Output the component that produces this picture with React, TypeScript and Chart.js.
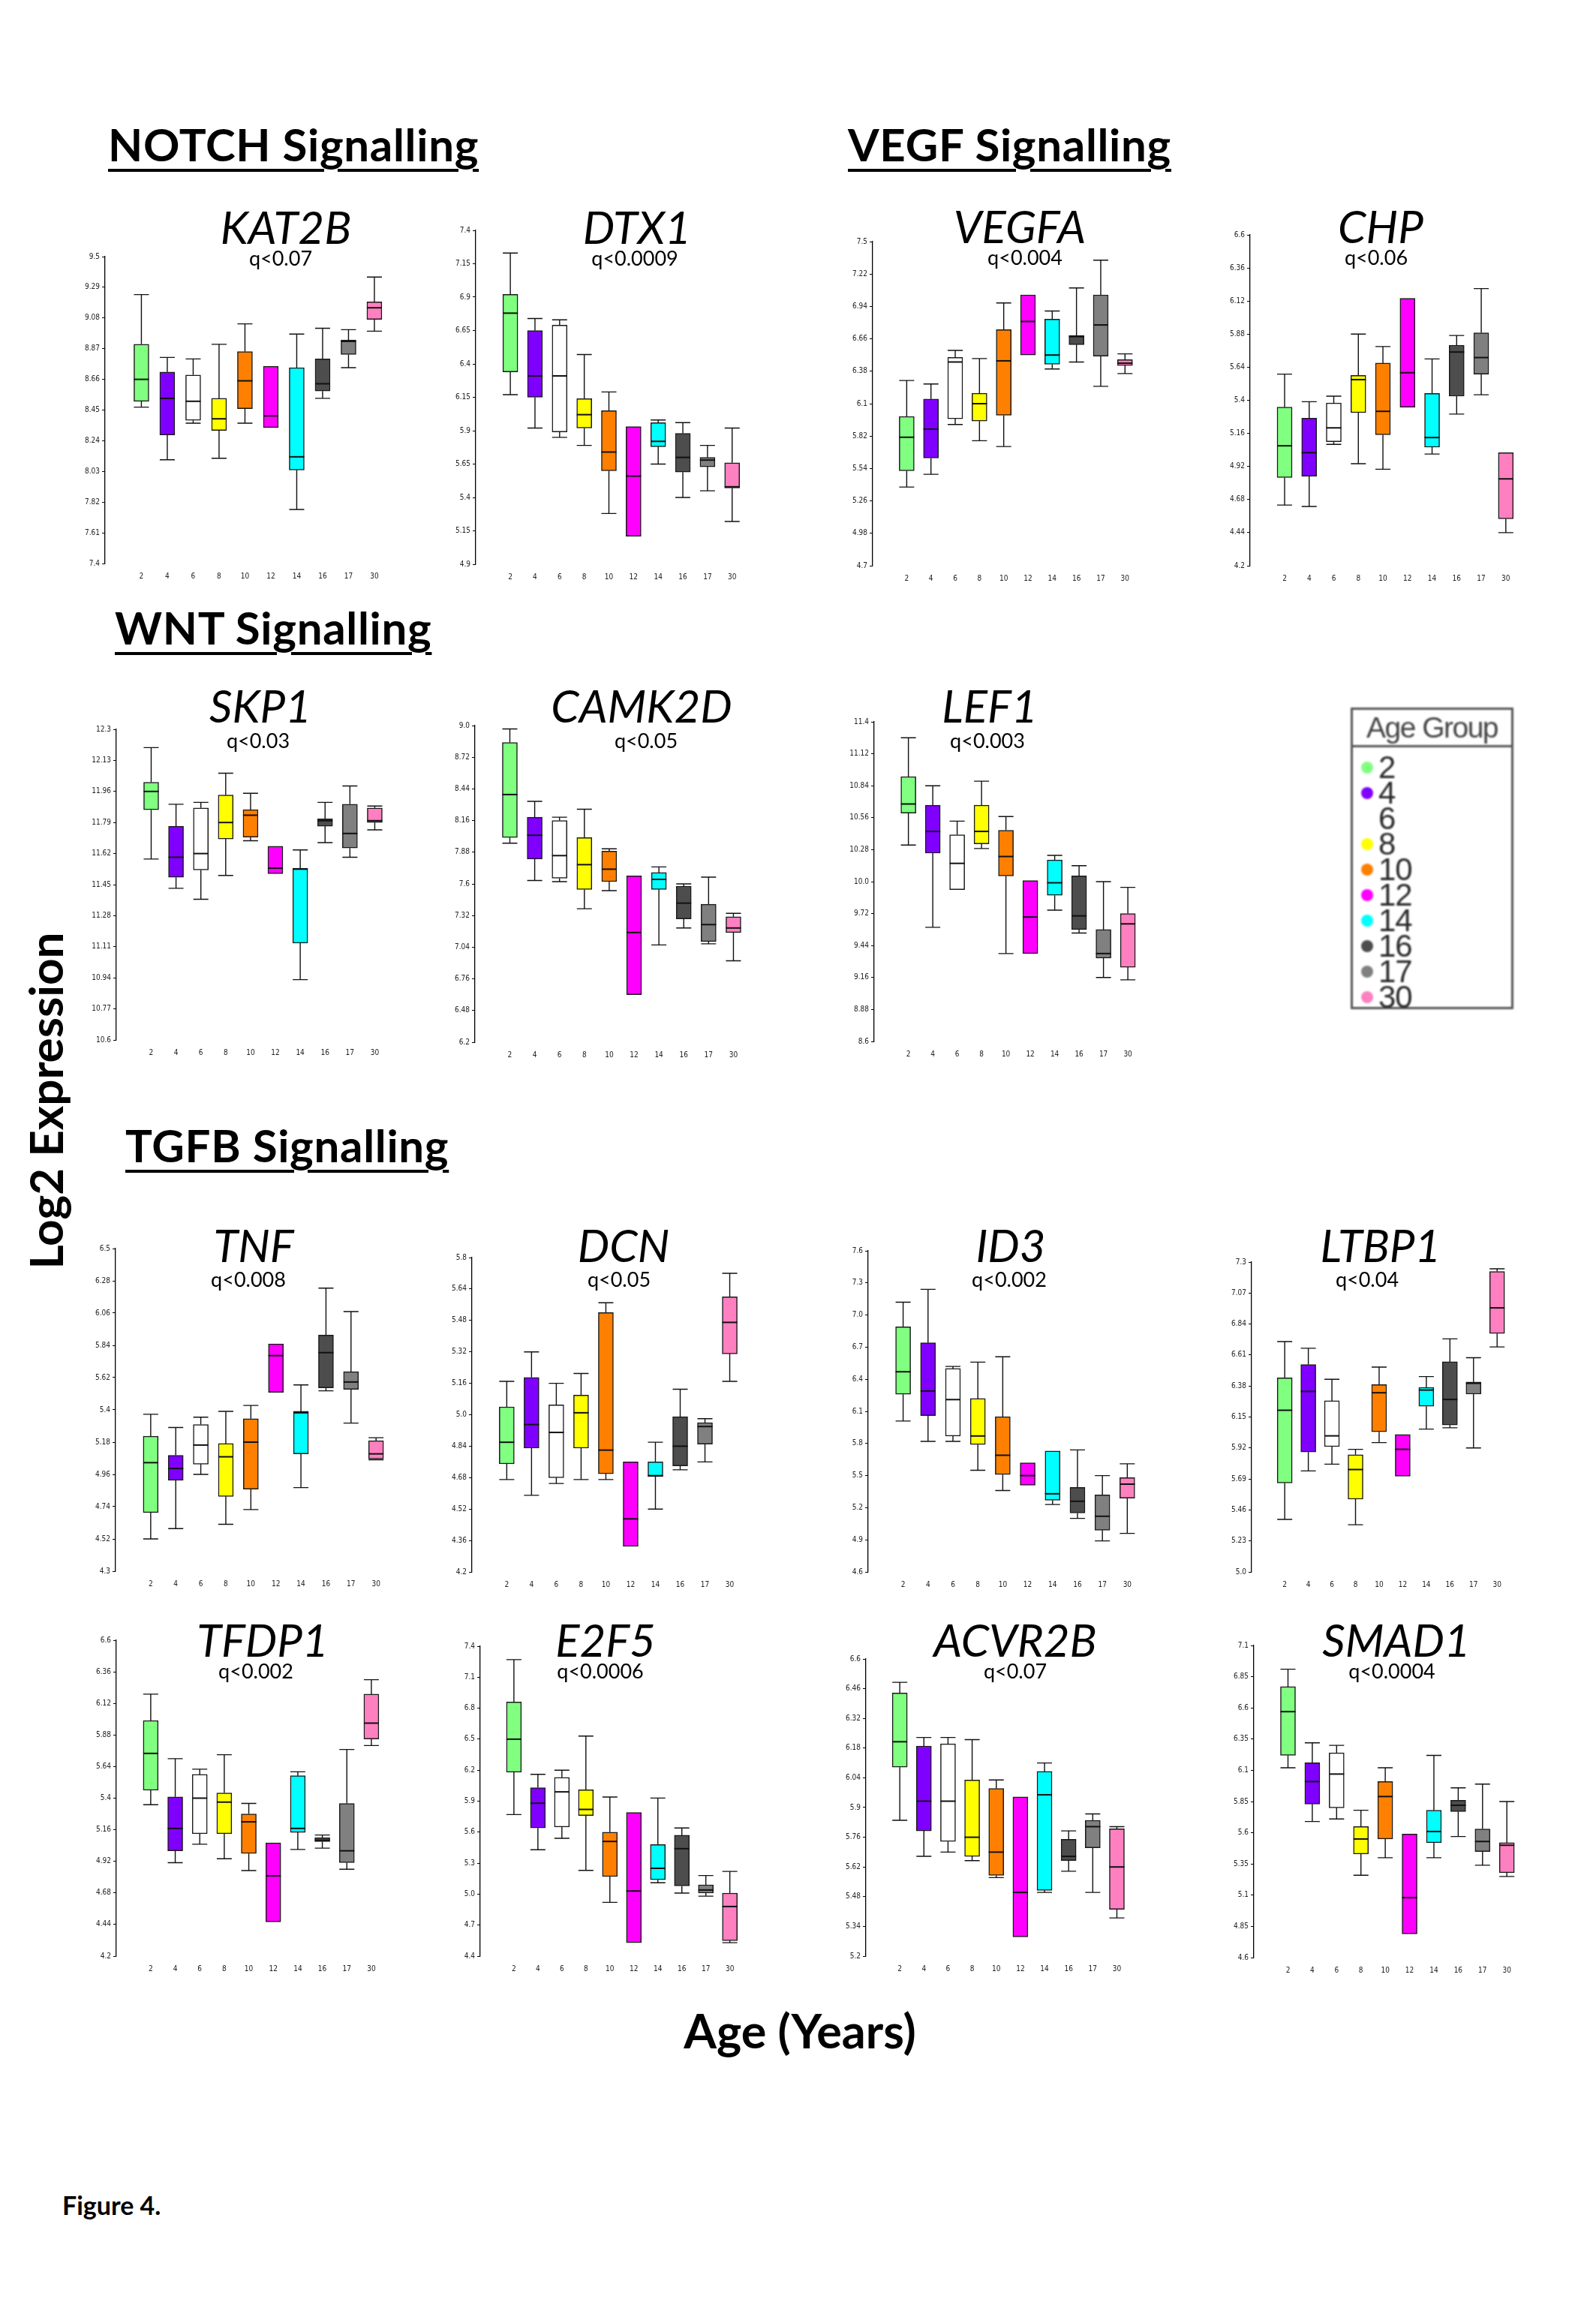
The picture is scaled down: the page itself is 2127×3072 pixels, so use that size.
import { useEffect, useRef } from "react";
import Chart from "chart.js/auto";

const AGE_GROUPS = ["2", "4", "6", "8", "10", "12", "14", "16", "17", "30"];
const AGE_COLORS = [
  "#80ff80", // 2
  "#8000ff", // 4
  "#ffffff", // 6
  "#ffff00", // 8
  "#ff8000", // 10
  "#ff00ff", // 12
  "#00ffff", // 14
  "#4d4d4d", // 16
  "#808080", // 17
  "#ff80c0", // 30
];

// every row: [min, q1, median, q3, max] for one age group
const KAT2B = [
  [8.47, 8.51, 8.66, 8.90, 9.24],
  [8.11, 8.28, 8.53, 8.71, 8.81],
  [8.36, 8.38, 8.51, 8.69, 8.80],
  [8.12, 8.31, 8.39, 8.53, 8.90],
  [8.36, 8.46, 8.65, 8.85, 9.04],
  [8.33, 8.33, 8.41, 8.75, 8.75],
  [7.77, 8.04, 8.13, 8.74, 8.97],
  [8.53, 8.58, 8.63, 8.80, 9.01],
  [8.74, 8.83, 8.92, 8.93, 9.00],
  [8.99, 9.07, 9.15, 9.19, 9.36],
];
const DTX1 = [
  [6.17, 6.34, 6.78, 6.92, 7.23],
  [5.92, 6.15, 6.31, 6.65, 6.74],
  [5.85, 5.89, 6.31, 6.69, 6.73],
  [5.79, 5.92, 6.02, 6.14, 6.47],
  [5.28, 5.60, 5.74, 6.05, 6.19],
  [5.11, 5.11, 5.56, 5.93, 5.93],
  [5.65, 5.78, 5.82, 5.96, 5.98],
  [5.40, 5.59, 5.70, 5.88, 5.96],
  [5.45, 5.63, 5.68, 5.70, 5.79],
  [5.22, 5.47, 5.48, 5.66, 5.92],
];
const VEGFA = [
  [5.38, 5.52, 5.81, 5.99, 6.30],
  [5.49, 5.63, 5.88, 6.14, 6.27],
  [5.92, 5.97, 6.46, 6.50, 6.56],
  [5.78, 5.95, 6.10, 6.19, 6.49],
  [5.73, 6.00, 6.47, 6.74, 6.97],
  [6.52, 6.52, 6.81, 7.04, 7.04],
  [6.40, 6.44, 6.52, 6.83, 6.90],
  [6.46, 6.61, 6.68, 6.69, 7.10],
  [6.25, 6.51, 6.78, 7.04, 7.34],
  [6.36, 6.43, 6.45, 6.48, 6.53],
];
const CHP = [
  [4.64, 4.84, 5.07, 5.35, 5.59],
  [4.63, 4.85, 5.02, 5.27, 5.39],
  [5.08, 5.10, 5.20, 5.38, 5.43],
  [4.94, 5.31, 5.55, 5.58, 5.88],
  [4.90, 5.15, 5.32, 5.67, 5.79],
  [5.35, 5.35, 5.60, 6.14, 6.14],
  [5.01, 5.06, 5.13, 5.45, 5.70],
  [5.30, 5.43, 5.75, 5.80, 5.87],
  [5.44, 5.59, 5.71, 5.89, 6.21],
  [4.44, 4.54, 4.83, 5.02, 5.02],
];
const SKP1 = [
  [11.59, 11.86, 11.96, 12.01, 12.20],
  [11.43, 11.49, 11.60, 11.77, 11.89],
  [11.37, 11.53, 11.62, 11.87, 11.90],
  [11.50, 11.70, 11.79, 11.94, 12.06],
  [11.69, 11.71, 11.83, 11.86, 11.95],
  [11.51, 11.51, 11.54, 11.66, 11.66],
  [10.93, 11.13, 11.535, 11.54, 11.64],
  [11.68, 11.77, 11.80, 11.81, 11.90],
  [11.60, 11.65, 11.73, 11.89, 11.99],
  [11.75, 11.79, 11.80, 11.87, 11.88],
];
const CAMK2D = [
  [7.96, 8.01, 8.39, 8.85, 8.97],
  [7.63, 7.82, 8.03, 8.19, 8.33],
  [7.62, 7.65, 7.85, 8.16, 8.19],
  [7.38, 7.55, 7.77, 8.01, 8.26],
  [7.54, 7.62, 7.73, 7.89, 7.91],
  [6.62, 6.62, 7.17, 7.67, 7.67],
  [7.06, 7.55, 7.64, 7.70, 7.75],
  [7.21, 7.29, 7.43, 7.58, 7.60],
  [7.07, 7.09, 7.24, 7.42, 7.66],
  [6.92, 7.17, 7.21, 7.31, 7.34],
];
const LEF1 = [
  [10.32, 10.60, 10.68, 10.92, 11.26],
  [9.60, 10.25, 10.44, 10.67, 10.84],
  [9.93, 9.93, 10.16, 10.41, 10.53],
  [10.29, 10.33, 10.44, 10.67, 10.88],
  [9.37, 10.05, 10.22, 10.45, 10.57],
  [9.37, 9.37, 9.69, 10.01, 10.01],
  [9.75, 9.88, 9.99, 10.19, 10.23],
  [9.55, 9.58, 9.70, 10.05, 10.14],
  [9.16, 9.33, 9.37, 9.58, 10.00],
  [9.14, 9.25, 9.63, 9.72, 9.95],
];
const TNF = [
  [4.52, 4.70, 5.04, 5.22, 5.37],
  [4.59, 4.92, 5.00, 5.09, 5.28],
  [4.96, 5.03, 5.16, 5.30, 5.35],
  [4.62, 4.81, 5.08, 5.17, 5.39],
  [4.72, 4.86, 5.18, 5.34, 5.43],
  [5.52, 5.52, 5.77, 5.85, 5.85],
  [4.87, 5.10, 5.38, 5.39, 5.57],
  [5.53, 5.55, 5.79, 5.91, 6.23],
  [5.31, 5.54, 5.59, 5.66, 6.07],
  [5.06, 5.065, 5.10, 5.19, 5.21],
];
const DCN = [
  [4.67, 4.75, 4.86, 5.04, 5.17],
  [4.59, 4.83, 4.95, 5.19, 5.32],
  [4.65, 4.68, 4.91, 5.05, 5.16],
  [4.67, 4.83, 5.01, 5.10, 5.21],
  [4.67, 4.70, 4.82, 5.52, 5.57],
  [4.33, 4.33, 4.47, 4.76, 4.76],
  [4.52, 4.685, 4.69, 4.76, 4.86],
  [4.72, 4.74, 4.84, 4.99, 5.13],
  [4.76, 4.85, 4.94, 4.96, 4.98],
  [5.17, 5.31, 5.47, 5.60, 5.72],
];
const ID3 = [
  [6.01, 6.26, 6.47, 6.89, 7.12],
  [5.82, 6.06, 6.29, 6.74, 7.24],
  [5.82, 5.87, 6.21, 6.50, 6.52],
  [5.55, 5.79, 5.87, 6.22, 6.56],
  [5.36, 5.51, 5.69, 6.05, 6.61],
  [5.41, 5.41, 5.50, 5.62, 5.62],
  [5.23, 5.27, 5.33, 5.73, 5.73],
  [5.10, 5.15, 5.26, 5.39, 5.74],
  [4.89, 4.99, 5.12, 5.32, 5.50],
  [4.96, 5.29, 5.42, 5.48, 5.61],
];
const LTBP1 = [
  [5.39, 5.66, 6.20, 6.44, 6.71],
  [5.75, 5.89, 6.34, 6.54, 6.66],
  [5.80, 5.93, 6.01, 6.27, 6.43],
  [5.35, 5.54, 5.76, 5.87, 5.91],
  [5.96, 6.04, 6.33, 6.39, 6.52],
  [5.71, 5.71, 5.91, 6.02, 6.02],
  [6.06, 6.23, 6.35, 6.37, 6.45],
  [6.07, 6.09, 6.28, 6.56, 6.73],
  [5.92, 6.32, 6.40, 6.41, 6.59],
  [6.67, 6.77, 6.96, 7.23, 7.25],
];
const TFDP1 = [
  [5.35, 5.46, 5.74, 5.99, 6.19],
  [4.91, 5.00, 5.17, 5.41, 5.70],
  [5.05, 5.13, 5.40, 5.58, 5.62],
  [4.94, 5.13, 5.37, 5.44, 5.73],
  [4.85, 4.98, 5.22, 5.28, 5.36],
  [4.46, 4.46, 4.81, 5.06, 5.06],
  [5.01, 5.14, 5.17, 5.57, 5.60],
  [5.02, 5.07, 5.08, 5.10, 5.12],
  [4.86, 4.91, 5.00, 5.36, 5.77],
  [5.80, 5.85, 5.97, 6.19, 6.30],
];
const E2F5 = [
  [5.77, 6.18, 6.50, 6.86, 7.27],
  [5.43, 5.64, 5.88, 6.03, 6.16],
  [5.54, 5.65, 5.99, 6.13, 6.20],
  [5.23, 5.76, 5.82, 6.01, 6.53],
  [4.92, 5.17, 5.51, 5.60, 5.94],
  [4.53, 4.53, 5.03, 5.79, 5.79],
  [5.11, 5.14, 5.25, 5.48, 5.93],
  [5.01, 5.08, 5.44, 5.57, 5.64],
  [4.98, 5.01, 5.04, 5.09, 5.18],
  [4.53, 4.55, 4.88, 5.01, 5.22],
];
const ACVR2B = [
  [5.84, 6.09, 6.21, 6.44, 6.49],
  [5.67, 5.79, 5.93, 6.19, 6.23],
  [5.69, 5.74, 5.93, 6.20, 6.23],
  [5.65, 5.67, 5.76, 6.03, 6.22],
  [5.57, 5.58, 5.69, 5.99, 6.03],
  [5.29, 5.29, 5.50, 5.95, 5.95],
  [5.50, 5.51, 5.96, 6.07, 6.11],
  [5.60, 5.65, 5.67, 5.75, 5.79],
  [5.50, 5.71, 5.81, 5.84, 5.87],
  [5.38, 5.42, 5.62, 5.80, 5.81],
];
const SMAD1 = [
  [6.12, 6.22, 6.57, 6.77, 6.91],
  [5.69, 5.83, 6.01, 6.16, 6.32],
  [5.71, 5.80, 6.07, 6.24, 6.30],
  [5.26, 5.43, 5.55, 5.65, 5.78],
  [5.40, 5.55, 5.89, 6.01, 6.12],
  [4.79, 4.79, 5.08, 5.59, 5.59],
  [5.40, 5.52, 5.61, 5.78, 6.22],
  [5.57, 5.77, 5.82, 5.86, 5.96],
  [5.34, 5.45, 5.53, 5.63, 5.99],
  [5.25, 5.28, 5.50, 5.52, 5.85],
];

// y axis range of each panel (11 evenly spaced tick labels)
const KAT2B_Y = [7.4, 9.5];
const DTX1_Y = [4.9, 7.4];
const VEGFA_Y = [4.7, 7.5];
const CHP_Y = [4.2, 6.6];
const SKP1_Y = [10.6, 12.3];
const CAMK2D_Y = [6.2, 9.0];
const LEF1_Y = [8.6, 11.4];
const TNF_Y = [4.3, 6.5];
const DCN_Y = [4.2, 5.8];
const ID3_Y = [4.6, 7.6];
const LTBP1_Y = [5.0, 7.3];
const TFDP1_Y = [4.2, 6.6];
const E2F5_Y = [4.4, 7.4];
const ACVR2B_Y = [5.2, 6.6];
const SMAD1_Y = [4.6, 7.1];

type Panel = {
  gene: string;
  q: string;
  stats: number[][];
  yRange: number[];
  // layout on the page (px): y-axis x, axis top/bottom, centre of last box, title and q positions
  ax: number; top: number; bottom: number; last: number;
  tx: number; ty: number; qx: number; qy: number;
};

const PANELS: Panel[] = [
  { gene: "KAT2B", q: "q<0.07", stats: KAT2B, yRange: KAT2B_Y, ax: 140, top: 341, bottom: 751, last: 517, tx: 381, ty: 325, qx: 374, qy: 354 },
  { gene: "DTX1", q: "q<0.0009", stats: DTX1, yRange: DTX1_Y, ax: 634, top: 306, bottom: 752, last: 993, tx: 849, ty: 325, qx: 846, qy: 354 },
  { gene: "VEGFA", q: "q<0.004", stats: VEGFA, yRange: VEGFA_Y, ax: 1163, top: 321, bottom: 754, last: 1516, tx: 1359, ty: 324, qx: 1366, qy: 353 },
  { gene: "CHP", q: "q<0.06", stats: CHP, yRange: CHP_Y, ax: 1666, top: 312, bottom: 754, last: 2024, tx: 1840, ty: 324, qx: 1834, qy: 353 },
  { gene: "SKP1", q: "q<0.03", stats: SKP1, yRange: SKP1_Y, ax: 155, top: 971, bottom: 1386, last: 517, tx: 347, ty: 963, qx: 344, qy: 997 },
  { gene: "CAMK2D", q: "q<0.05", stats: CAMK2D, yRange: CAMK2D_Y, ax: 633, top: 966, bottom: 1389, last: 995, tx: 855, ty: 963, qx: 861, qy: 997 },
  { gene: "LEF1", q: "q<0.003", stats: LEF1, yRange: LEF1_Y, ax: 1165, top: 961, bottom: 1388, last: 1520, tx: 1319, ty: 963, qx: 1316, qy: 997 },
  { gene: "TNF", q: "q<0.008", stats: TNF, yRange: TNF_Y, ax: 154, top: 1663, bottom: 2094, last: 518, tx: 338, ty: 1682, qx: 331, qy: 1715 },
  { gene: "DCN", q: "q<0.05", stats: DCN, yRange: DCN_Y, ax: 629, top: 1675, bottom: 2095, last: 990, tx: 831, ty: 1682, qx: 825, qy: 1715 },
  { gene: "ID3", q: "q<0.002", stats: ID3, yRange: ID3_Y, ax: 1157, top: 1666, bottom: 2095, last: 1520, tx: 1347, ty: 1682, qx: 1345, qy: 1715 },
  { gene: "LTBP1", q: "q<0.04", stats: LTBP1, yRange: LTBP1_Y, ax: 1668, top: 1681, bottom: 2095, last: 2012, tx: 1840, ty: 1682, qx: 1822, qy: 1715 },
  { gene: "TFDP1", q: "q<0.002", stats: TFDP1, yRange: TFDP1_Y, ax: 155, top: 2185, bottom: 2607, last: 512, tx: 350, ty: 2208, qx: 341, qy: 2237 },
  { gene: "E2F5", q: "q<0.0006", stats: E2F5, yRange: E2F5_Y, ax: 640, top: 2193, bottom: 2607, last: 989, tx: 807, ty: 2208, qx: 800, qy: 2237 },
  { gene: "ACVR2B", q: "q<0.07", stats: ACVR2B, yRange: ACVR2B_Y, ax: 1154, top: 2210, bottom: 2607, last: 1505, tx: 1353, ty: 2208, qx: 1353, qy: 2237 },
  { gene: "SMAD1", q: "q<0.0004", stats: SMAD1, yRange: SMAD1_Y, ax: 1671, top: 2192, bottom: 2609, last: 2025, tx: 1861, ty: 2208, qx: 1855, qy: 2237 },
];

const SECTIONS = [
  { text: "NOTCH Signalling", x: 144, y: 215 },
  { text: "VEGF Signalling", x: 1130, y: 215 },
  { text: "WNT Signalling", x: 153, y: 859 },
  { text: "TGFB Signalling", x: 167, y: 1549 },
];

const TICK_FONT = "'Liberation Sans Narrow', 'DejaVu Sans Condensed', 'Liberation Sans', sans-serif";
const Y_W = 40; // width reserved for the y tick labels
const PAD_T = 8;
const PAD_R = 4;
const X_H = 24;
const X_MIN = -0.83;
const X_MAX = 9.5;

const fmtTick = (v: number) => {
  let s = String(Math.round(v * 100) / 100);
  if (!s.includes(".")) s += ".0";
  return s;
};

// draws whiskers, caps and median lines on top of the floating bars (q1..q3)
const whiskerPlugin = {
  id: "boxWhiskers",
  afterDatasetsDraw(chart: any, _args: any, opts: any) {
    const stats: number[][] = opts.stats || [];
    const yScale = chart.scales.y;
    const meta = chart.getDatasetMeta(0);
    const ctx = chart.ctx;
    ctx.save();
    ctx.strokeStyle = "#111";
    meta.data.forEach((bar: any, i: number) => {
      const [mn, q1, md, q3, mx] = stats[i];
      const cx = bar.x;
      const half = bar.width / 2;
      const py = (v: number) => yScale.getPixelForValue(v);
      ctx.lineWidth = 1.4;
      ctx.beginPath();
      if (mx > q3) {
        ctx.moveTo(cx, py(q3));
        ctx.lineTo(cx, py(mx));
        ctx.moveTo(cx - half, py(mx));
        ctx.lineTo(cx + half, py(mx));
      }
      if (mn < q1) {
        ctx.moveTo(cx, py(q1));
        ctx.lineTo(cx, py(mn));
        ctx.moveTo(cx - half, py(mn));
        ctx.lineTo(cx + half, py(mn));
      }
      ctx.stroke();
      ctx.lineWidth = 2;
      ctx.beginPath();
      ctx.moveTo(cx - half, py(md));
      ctx.lineTo(cx + half, py(md));
      ctx.stroke();
    });
    ctx.restore();
  },
};

function plotWidth(p: Panel) {
  return ((p.last - p.ax) * (X_MAX - X_MIN)) / (9 - X_MIN);
}

function BoxPanel({ p }: { p: Panel }) {
  const canvasRef = useRef<HTMLCanvasElement>(null);
  const w = Math.round(Y_W + plotWidth(p) + PAD_R);
  const h = Math.round(PAD_T + (p.bottom - p.top) + X_H);

  useEffect(() => {
    if (!canvasRef.current) return;
    const [yMin, yMax] = p.yRange;
    const yTicks = Array.from({ length: 11 }, (_, i) => yMin + ((yMax - yMin) * i) / 10);

    const chart = new Chart(canvasRef.current, {
      type: "bar",
      data: {
        datasets: [
          {
            data: p.stats.map((s, i) => ({ x: i, y: [s[1], s[3]] })) as any,
            backgroundColor: AGE_COLORS,
            borderColor: "#1a1a1a",
            borderWidth: 1.5,
            borderSkipped: false,
            barThickness: 20,
          },
        ],
      },
      options: {
        animation: false,
        responsive: false,
        events: [],
        layout: { padding: { top: PAD_T, right: PAD_R, left: 0, bottom: 0 } },
        plugins: {
          legend: { display: false },
          tooltip: { enabled: false },
          // @ts-ignore
          boxWhiskers: { stats: p.stats },
        },
        scales: {
          x: {
            type: "linear",
            min: X_MIN,
            max: X_MAX,
            grid: { display: false },
            border: { display: false },
            ticks: {
              font: { family: TICK_FONT, size: 10 },
              color: "#222",
              padding: 3,
              maxRotation: 0,
              autoSkip: false,
              callback: (v: any) => AGE_GROUPS[v as number] ?? "",
            },
            afterBuildTicks: (s: any) => {
              s.ticks = AGE_GROUPS.map((_, i) => ({ value: i }));
            },
            afterFit: (s: any) => {
              s.height = X_H;
            },
          },
          y: {
            min: yMin,
            max: yMax,
            border: { display: true, color: "#000", width: 1.3 },
            grid: { drawOnChartArea: false, drawTicks: true, tickLength: 4, color: "#000", lineWidth: 1 },
            ticks: {
              font: { family: TICK_FONT, size: 10 },
              color: "#222",
              padding: 3,
              autoSkip: false,
              callback: (v: any) => fmtTick(Number(v)),
            },
            afterBuildTicks: (s: any) => {
              s.ticks = yTicks.map((v) => ({ value: v }));
            },
            afterFit: (s: any) => {
              s.width = Y_W;
            },
          },
        },
      } as any,
      plugins: [whiskerPlugin],
    });

    return () => {
      chart.destroy();
    };
  }, [p]);

  return (
    <>
      <canvas
        ref={canvasRef}
        width={w}
        height={h}
        style={{ position: "absolute", left: p.ax - Y_W, top: p.top - PAD_T, width: w, height: h }}
      />
      <div
        style={{
          position: "absolute",
          left: p.tx,
          top: p.ty - 0.887 * 60,
          transform: "translateX(-50%)",
          fontFamily: "Lato, 'Open Sans', sans-serif",
          fontStyle: "italic",
          fontSize: 60,
          lineHeight: 1,
          whiteSpace: "nowrap",
          color: "#000",
        }}
      >
        {p.gene}
      </div>
      <div
        style={{
          position: "absolute",
          left: p.qx,
          top: p.qy - 0.887 * 27,
          transform: "translateX(-50%)",
          fontFamily: "Lato, 'Open Sans', sans-serif",
          fontSize: 27,
          lineHeight: 1,
          whiteSpace: "nowrap",
          color: "#000",
        }}
      >
        {p.q}
      </div>
    </>
  );
}

function AgeLegend() {
  return (
    <div
      style={{
        position: "absolute",
        left: 1800,
        top: 943,
        width: 211,
        height: 396,
        border: "3px solid #555",
        fontFamily: "'Liberation Sans', Arial, sans-serif",
        color: "#333",
        filter: "blur(0.8px)",
      }}
    >
      <div
        style={{
          height: 47,
          borderBottom: "3px solid #555",
          fontSize: 39,
          lineHeight: "47px",
          textAlign: "center",
          color: "#444",
          letterSpacing: -1.5,
        }}
      >
        Age Group
      </div>
      {AGE_GROUPS.map((age, i) => (
        <div
          key={age}
          style={{ position: "absolute", left: 0, top: 60 + i * 34, height: 34, display: "flex", alignItems: "center" }}
        >
          <span
            style={{
              display: "inline-block",
              width: 16,
              height: 16,
              borderRadius: 8,
              marginLeft: 11,
              marginRight: 7,
              background: AGE_COLORS[i],
            }}
          />
          <span style={{ fontSize: 42, lineHeight: "34px", color: "#2a2a2a", letterSpacing: -1 }}>{age}</span>
        </div>
      ))}
    </div>
  );
}

export default function App() {
  return (
    <div
      style={{
        position: "absolute",
        left: 0,
        top: 0,
        width: 2127,
        height: 3072,
        background: "#fff",
        overflow: "hidden",
      }}
    >
      {SECTIONS.map((s) => (
        <div
          key={s.text}
          style={{
            position: "absolute",
            left: s.x,
            top: s.y - 0.887 * 60,
            fontFamily: "Lato, sans-serif",
            fontWeight: 700,
            fontSize: 60,
            lineHeight: 1,
            letterSpacing: 0.7,
            whiteSpace: "nowrap",
            textDecoration: "underline",
            textDecorationThickness: "4px",
            textUnderlineOffset: "10px",
            color: "#000",
          }}
        >
          {s.text}
        </div>
      ))}

      {PANELS.map((p) => (
        <BoxPanel key={p.gene} p={p} />
      ))}

      <AgeLegend />

      <div
        style={{
          position: "absolute",
          left: 60,
          top: 1467,
          transform: "translate(-50%, -50%) rotate(-90deg)",
          fontFamily: "Lato, sans-serif",
          fontWeight: 700,
          fontSize: 62,
          lineHeight: 1,
          whiteSpace: "nowrap",
          color: "#000",
        }}
      >
        Log2 Expression
      </div>

      <div
        style={{
          position: "absolute",
          left: 1066,
          top: 2730 - 0.887 * 63,
          transform: "translateX(-50%)",
          fontFamily: "Lato, sans-serif",
          fontWeight: 700,
          fontSize: 63,
          lineHeight: 1,
          whiteSpace: "nowrap",
          color: "#000",
        }}
      >
        Age (Years)
      </div>

      <div
        style={{
          position: "absolute",
          left: 83,
          top: 2952 - 0.887 * 34,
          fontFamily: "Lato, sans-serif",
          fontWeight: 700,
          fontSize: 34,
          lineHeight: 1,
          whiteSpace: "nowrap",
          color: "#000",
        }}
      >
        Figure 4.
      </div>
    </div>
  );
}
